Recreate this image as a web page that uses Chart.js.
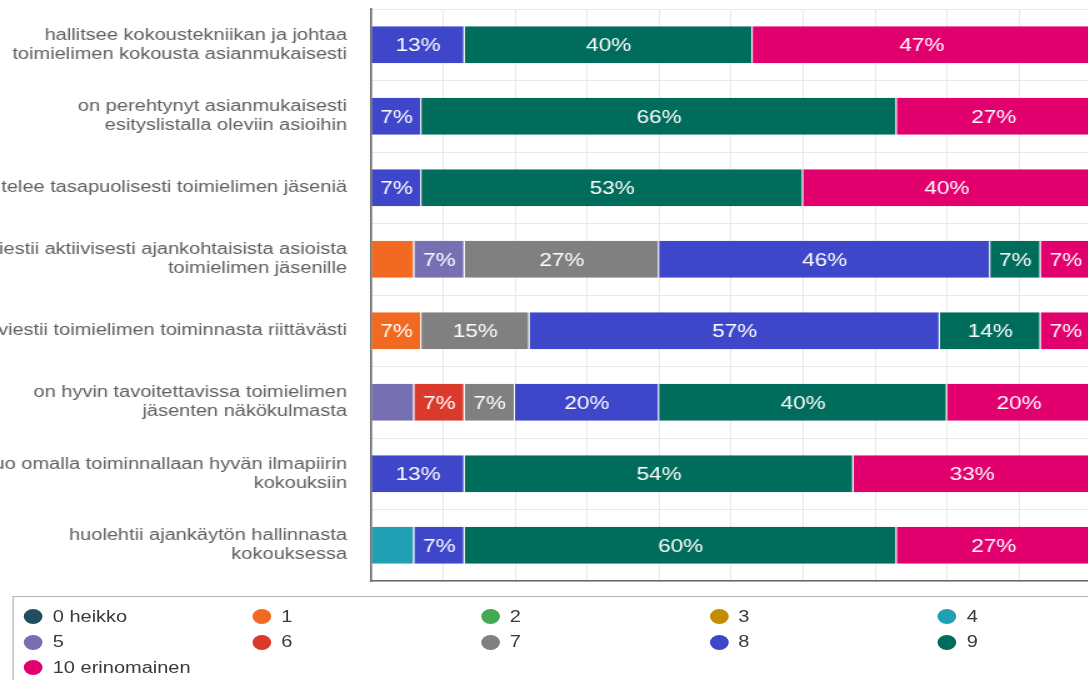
<!DOCTYPE html>
<html>
<head>
<meta charset="utf-8">
<script src="https://cdn.jsdelivr.net/npm/chart.js@4"></script>
<style>
  html, body { margin:0; padding:0; width:1088px; height:680px; overflow:hidden; background:#fff; }
  #wrap { position:absolute; left:0; top:0; width:880px; height:720px; transform:scaleX(1.25); transform-origin:0 0; }
  #c { position:absolute; left:0; top:0; width:880px; height:590px; }
  #legend { position:absolute; left:9.6px; top:596px; width:1000px; height:120px; border:1px solid #b4b4b4; box-sizing:border-box;
            padding:7px 0 0 8.6px; display:grid; grid-template-columns:repeat(5, 182.8px); grid-auto-rows:25.6px;
            font-family:"Liberation Sans", Arial, sans-serif; font-size:16px; color:#3a3a3a; }
  .item { display:flex; align-items:center; }
  .dot { width:15px; height:15px; border-radius:50%; margin-right:8px; flex:none; }
</style>
</head>
<body>
<div id="wrap">
  <canvas id="c" width="880" height="590"></canvas>
  <div id="legend"></div>
</div>
<script>
const categories = [
  ['hallitsee kokoustekniikan ja johtaa', 'toimielimen kokousta asianmukaisesti'],
  ['on perehtynyt asianmukaisesti', 'esityslistalla oleviin asioihin'],
  'kohtelee tasapuolisesti toimielimen jäseniä',
  ['tiedottaa ja viestii aktiivisesti ajankohtaisista asioista', 'toimielimen jäsenille'],
  'tiedottaa ja viestii toimielimen toiminnasta riittävästi',
  ['on hyvin tavoitettavissa toimielimen', 'jäsenten näkökulmasta'],
  ['luo omalla toiminnallaan hyvän ilmapiirin', 'kokouksiin'],
  ['huolehtii ajankäytön hallinnasta', 'kokouksessa']
];

const seriesNames = ['0 heikko', '1', '2', '3', '4', '5', '6', '7', '8', '9', '10 erinomainen'];
const seriesColors = ['#1f4e5c', '#f26a22', '#45a853', '#c48c00', '#21a0b4', '#7670b3', '#d93a2b', '#808080', '#3e47c9', '#006c5b', '#e2006f'];

const s0  = [0, 0, 0, 0, 0, 0, 0, 0];
const s1  = [0, 0, 0, 6, 7, 0, 0, 0];
const s2  = [0, 0, 0, 0, 0, 0, 0, 0];
const s3  = [0, 0, 0, 0, 0, 0, 0, 0];
const s4  = [0, 0, 0, 0, 0, 0, 0, 6];
const s5  = [0, 0, 0, 7, 0, 6, 0, 0];
const s6  = [0, 0, 0, 0, 0, 7, 0, 0];
const s7  = [0, 0, 0, 27, 15, 7, 0, 0];
const s8  = [13, 7, 7, 46, 57, 20, 13, 7];
const s9  = [40, 66, 53, 7, 14, 40, 54, 60];
const s10 = [47, 27, 40, 7, 7, 20, 33, 27];
const seriesValues = [s0, s1, s2, s3, s4, s5, s6, s7, s8, s9, s10];

const xTicks = [0, 10, 20, 30, 40, 50, 60, 70, 80, 90, 100];

const datasets = seriesNames.map((name, i) => ({
  label: name,
  data: seriesValues[i],
  backgroundColor: seriesColors[i],
  borderColor: 'rgba(255,255,255,0.85)',
  borderWidth: { left: 0, right: 1, top: 0, bottom: 0 },
  borderSkipped: false,
  barPercentage: 0.52,
  categoryPercentage: 1.0
}));

const valueLabels = {
  id: 'valueLabels',
  afterDatasetsDraw(chart) {
    const ctx = chart.ctx;
    ctx.save();
    ctx.font = '18px "Liberation Sans", Arial, sans-serif';
    ctx.fillStyle = '#ffffff';
    ctx.textAlign = 'center';
    ctx.textBaseline = 'middle';
    chart.data.datasets.forEach((ds, i) => {
      const meta = chart.getDatasetMeta(i);
      meta.data.forEach((bar, j) => {
        const v = ds.data[j];
        if (v >= 7) {
          const p = bar.getProps(['x', 'y', 'base'], true);
          ctx.fillText(v + '%', (p.x + p.base) / 2, p.y + 1.5);
        }
      });
    });
    ctx.restore();
  }
};

new Chart(document.getElementById('c'), {
  type: 'bar',
  data: { labels: categories, datasets },
  options: {
    indexAxis: 'y',
    responsive: false,
    maintainAspectRatio: false,
    animation: false,
    layout: { padding: { top: 9, right: 7.2, bottom: 9, left: 0 } },
    plugins: { legend: { display: false }, tooltip: { enabled: false } },
    scales: {
      x: {
        stacked: true,
        min: 0, max: 100,
        afterBuildTicks(scale) { scale.ticks = xTicks.map(v => ({ value: v })); },
        ticks: { display: false },
        grid: { color: '#e8e8e8', lineWidth: 1, drawTicks: false },
        border: { display: true, color: '#6a6a6a', width: 1.5 },
        afterFit(scale) { scale.height = 0; scale.paddingLeft = 0; scale.paddingRight = 0; }
      },
      y: {
        stacked: true,
        afterFit(scale) { scale.width = 296.8; scale.paddingTop = 0; scale.paddingBottom = 0; },
        ticks: {
          autoSkip: false,
          padding: 19.2,
          color: '#5e5e5e',
          font: { family: '"Liberation Sans", Arial, sans-serif', size: 16, lineHeight: 1.2 }
        },
        grid: { color: '#e8e8e8', lineWidth: 1, drawTicks: false, offset: true },
        border: { display: true, color: '#6a6a6a', width: 1.6 }
      }
    }
  },
  plugins: [valueLabels]
});

const legend = document.getElementById('legend');
seriesNames.forEach((name, i) => {
  const item = document.createElement('div');
  item.className = 'item';
  const dot = document.createElement('span');
  dot.className = 'dot';
  dot.style.background = seriesColors[i];
  const txt = document.createElement('span');
  txt.textContent = name;
  item.appendChild(dot);
  item.appendChild(txt);
  legend.appendChild(item);
});
</script>
</body>
</html>
